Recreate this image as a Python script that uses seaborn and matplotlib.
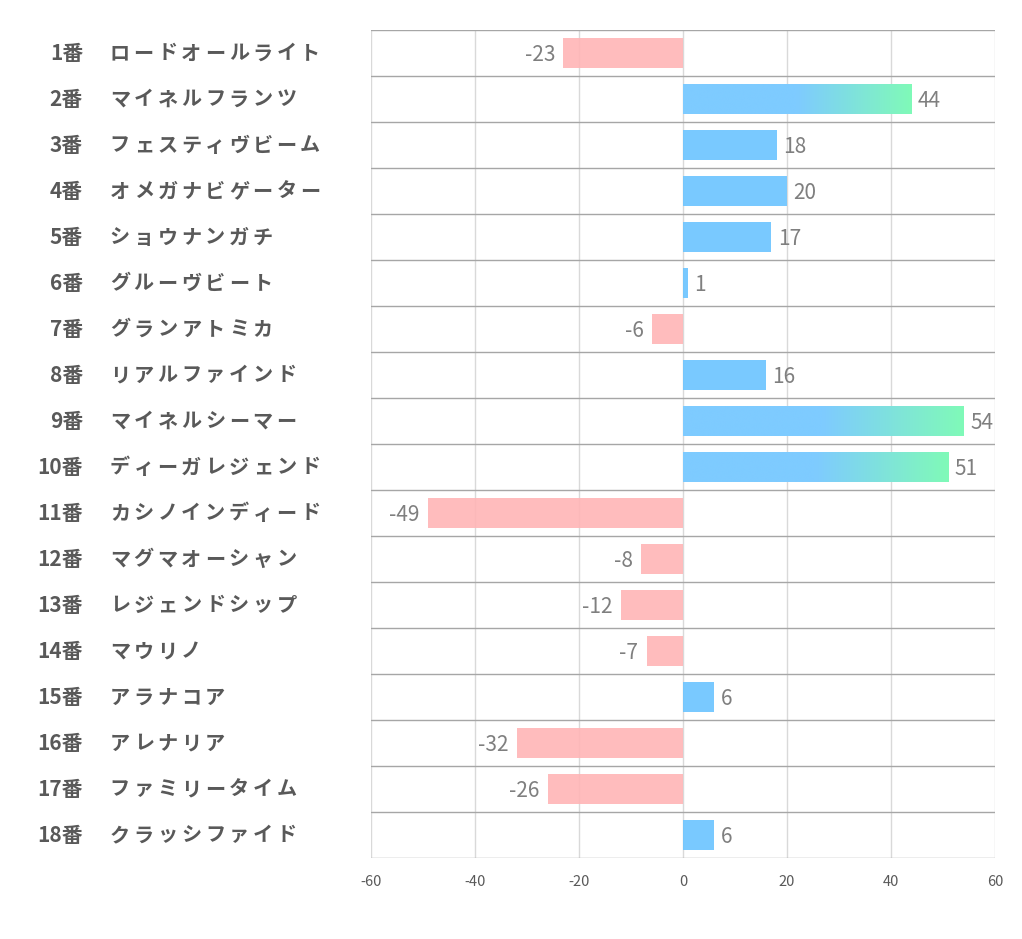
import numpy as np
import pandas as pd
import matplotlib
matplotlib.use('Agg')
import matplotlib.pyplot as plt
import matplotlib.transforms as mtransforms
from matplotlib.colors import LinearSegmentedColormap
import seaborn as sns

# Data
numbers = [f'{i}番' for i in range(1, 19)]
names = ['ロードオールライト', 'マイネルフランツ', 'フェスティヴビーム', 'オメガナビゲーター',
         'ショウナンガチ', 'グルーヴビート', 'グランアトミカ', 'リアルファインド',
         'マイネルシーマー', 'ディーガレジェンド', 'カシノインディード', 'マグマオーシャン',
         'レジェンドシップ', 'マウリノ', 'アラナコア', 'アレナリア',
         'ファミリータイム', 'クラッシファイド']
values = [-23, 44, 18, 20, 17, 1, -6, 16, 54, 51, -49, -8, -12, -7, 6, -32, -26, 6]
ticks = [-60, -40, -20, 0, 20, 40, 60]

BLUE = '#6BC4FF'
PINK = '#FFB5B6'
GRAD_FROM = '#7ECBFF'
GRAD_TO = '#80FAB8'
TEXT = '#595959'
VALTXT = '#7F7F7F'
ALPHA = 0.9

sns.set_style('white')
plt.rcParams['font.family'] = ['Noto Sans CJK JP', 'DejaVu Sans']

df = pd.DataFrame({'label': [f'{n}{m}' for n, m in zip(numbers, names)], 'value': values})
df['sign'] = np.where(df['value'] >= 0, 'pos', 'neg')

fig = plt.figure(figsize=(10.22, 9.39), dpi=100)
ax = fig.add_axes([371/1022, 1 - 858/939, (995-371)/1022, (858-30)/939])

sns.barplot(data=df, x='value', y='label', hue='sign', palette={'pos': BLUE, 'neg': PINK},
            orient='h', width=0.65, dodge=False, legend=False, ax=ax, zorder=3,
            linewidth=0, saturation=1, alpha=ALPHA)

ax.set_xticks(ticks)
ax.set_xticklabels([str(t) for t in ticks], color=TEXT, fontsize=10.5)
ax.tick_params(axis='x', length=0, pad=12)
ax.set_yticks([])
ax.set_xlabel('')
ax.set_ylabel('')
for s in ax.spines.values():
    s.set_visible(False)

# grid
for t in ticks:
    ax.axvline(t, color='#D9D9D9', lw=1, zorder=1)
for k in range(len(values) + 1):
    ax.axhline(k - 0.5, color='#A6A6A6', lw=1, zorder=2)

# gradient overlay for long positive bars
cmap = LinearSegmentedColormap.from_list('bg', [GRAD_FROM, GRAD_FROM, GRAD_TO], N=256)
grad = np.linspace(0, 1, 256).reshape(1, -1)
for p in ax.patches:
    w = p.get_width()
    if w > 40:
        x0, y0, h = p.get_x(), p.get_y(), p.get_height()
        im = ax.imshow(grad, cmap=cmap, aspect='auto', extent=[x0, x0 + w, y0 + h, y0],
                       zorder=4, interpolation='bicubic')
        im.set_clip_path(p)
ax.set_xlim(-60, 60)
ax.set_ylim(len(values) - 0.5, -0.5)

# value labels
for i, v in enumerate(values):
    if v >= 0:
        ax.text(v + 1.2, i + 0.05, str(v), ha='left', va='center', fontsize=15, color=VALTXT, zorder=5)
    else:
        ax.text(v - 1.6, i + 0.05, str(v), ha='right', va='center', fontsize=15, color=VALTXT, zorder=5)

# category labels (full-width spacing for the names)
trans = mtransforms.blended_transform_factory(fig.transFigure, ax.transData)
step = 23.8 / 1022
for i, (n, m) in enumerate(zip(numbers, names)):
    ax.text(83/1022, i, n, transform=trans, ha='right', va='center',
            fontsize=15, fontweight='bold', color=TEXT, clip_on=False)
    for k, ch in enumerate(m):
        ax.text(108/1022 + k * step + step / 2, i, ch, transform=trans, ha='center', va='center',
                fontsize=14.5, fontweight='bold', color=TEXT, clip_on=False)

fig.savefig('out.png', dpi=100, facecolor='white')
